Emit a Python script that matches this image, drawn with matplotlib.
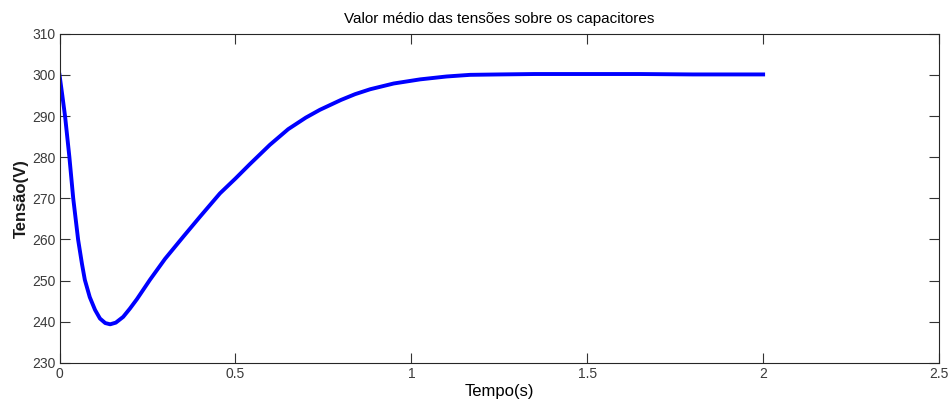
import matplotlib
matplotlib.use("Agg")
import matplotlib.pyplot as plt

# Data
tempo = [0, 0.008, 0.016, 0.028, 0.039, 0.053, 0.064, 0.072, 0.086, 0.101, 0.115, 0.130, 0.144,
         0.160, 0.181, 0.200, 0.220, 0.257, 0.300, 0.352, 0.400, 0.456, 0.500, 0.541,
         0.598, 0.650, 0.700, 0.740, 0.800, 0.840, 0.883, 0.950, 1.025, 1.100, 1.167,
         1.250, 1.350, 1.500, 1.650, 1.800, 2.000]
tensao = [300.0, 295.0, 289.8, 280.1, 270.0, 259.9, 254.0, 250.2, 246.0, 242.9, 240.8, 239.7, 239.4,
          239.8, 241.2, 243.2, 245.5, 250.2, 255.3, 260.7, 265.6, 271.2, 274.8, 278.3,
          283.0, 286.8, 289.6, 291.5, 293.9, 295.3, 296.5, 297.9, 298.9, 299.6, 300.0,
          300.1, 300.2, 300.2, 300.2, 300.1, 300.1]

xticks = [0, 0.5, 1, 1.5, 2, 2.5]
xticklabels = ["0", "0.5", "1", "1.5", "2", "2.5"]
yticks = [230, 240, 250, 260, 270, 280, 290, 300, 310]

plt.rcParams['font.family'] = ['Liberation Sans', 'DejaVu Sans']

fig = plt.figure(figsize=(9.49, 4.01), dpi=100)
ax = fig.add_axes([0.0627, 0.0948, 0.9268, 0.8212])
ax.plot(tempo, tensao, color='#0000ff', lw=2.8, solid_joinstyle='round')
ax.set_xlim(0, 2.5)
ax.set_ylim(230, 310)
ax.set_xticks(xticks)
ax.set_xticklabels(xticklabels)
ax.set_yticks(yticks)
ax.tick_params(direction='in', length=7, width=0.8, colors='#333333',
               labelcolor='#3a3a3a', labelsize=10, top=True, right=True, pad=3)
for s in ax.spines.values():
    s.set_color('#262626')
    s.set_linewidth(0.8)
ax.set_title('Valor médio das tensões sobre os capacitores', fontsize=11, pad=8)
ax.set_xlabel('Tempo(s)', fontsize=12, labelpad=2)
ax.set_ylabel('Tensão(V)', fontsize=12, fontweight='bold', labelpad=2, color='#1a1a1a')
fig.savefig('out.png', dpi=100)
